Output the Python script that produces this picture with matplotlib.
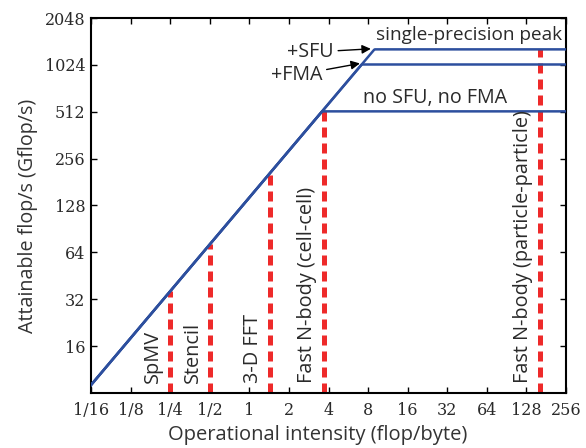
import numpy as np
import matplotlib.pyplot as plt

# roofline parameters (Fermi-class GPU)
bandwidth = 144.0          # GB/s
peaks = [1288, 1030, 515]  # +SFU, +FMA, no SFU/no FMA
peak_names = ["single-precision peak", "+FMA", "no SFU, no FMA"]

# kernels: operational intensity and attained roof
kernels = ["SpMV", "Stencil", "3-D FFT", "Fast N-body (cell-cell)",
           "Fast N-body (particle-particle)"]
kernel_oi = [0.25, 0.5, 1.43, 3.7, 162]
kernel_top = [36, 72, 206, 515, 1288]

xticks = [1/16, 1/8, 1/4, 1/2, 1, 2, 4, 8, 16, 32, 64, 128, 256]
xticklabels = ["1/16", "1/8", "1/4", "1/2", "1", "2", "4", "8", "16", "32",
               "64", "128", "256"]
yticks = [16, 32, 64, 128, 256, 512, 1024, 2048]

blue = "#2d4f9e"
red = "#ee2a2a"
txt = "#2a2a2a"
sans = ["Open Sans", "DejaVu Sans"]

fig = plt.figure(figsize=(5.86, 4.48), dpi=100)
ax = fig.add_axes([0.1553, 0.1228, 0.8106, 0.837])
ax.set_xscale("log", base=2)
ax.set_yscale("log", base=2)

x = np.logspace(np.log2(1/16), np.log2(256), 600, base=2)
for p in peaks:
    ax.plot(x, np.minimum(bandwidth * x, p), color=blue, lw=1.8, zorder=3)

# kernel markers with rotated names
for oi, top, name in zip(kernel_oi, kernel_top, kernels):
    ax.plot([oi, oi], [8, top], color=red, lw=3.6, dashes=(2.0, 1.2), zorder=2)
    ax.text(oi / 1.13, 9.3, name, rotation=90, ha="right", va="bottom",
            fontsize=14.3, family=sans, color=txt)

ax.text(9.17, 1594, peak_names[0], ha="left", va="center", fontsize=13.7,
        family=sans, color=txt)
ax.text(7.3, 628, peak_names[2], ha="left", va="center", fontsize=14.2,
        family=sans, color=txt)
ax.annotate("+SFU", xy=(8.6, 1300), xytext=(4.4, 1235), ha="right",
            va="center", fontsize=14.2, family=sans, color=txt,
            arrowprops=dict(arrowstyle="-|>", color="k", lw=1.0,
                            shrinkA=1, shrinkB=1, mutation_scale=13))
ax.annotate("+FMA", xy=(7.1, 1050), xytext=(3.6, 882), ha="right",
            va="center", fontsize=14.2, family=sans, color=txt,
            arrowprops=dict(arrowstyle="-|>", color="k", lw=1.0,
                            shrinkA=1, shrinkB=1, mutation_scale=13))

ax.set_xlim(1/16, 256)
ax.set_ylim(8, 2048)
ax.set_xticks(xticks)
ax.set_xticklabels(xticklabels)
ax.set_yticks(yticks)
ax.set_yticklabels([str(v) for v in yticks])
ax.minorticks_off()
ax.tick_params(direction="in", top=True, right=True, length=4, width=1,
               labelsize=11.5)
ax.tick_params(axis="x", pad=6.5)
ax.tick_params(axis="y", pad=4)
for lab in ax.get_xticklabels() + ax.get_yticklabels():
    lab.set_family("DejaVu Serif")
    lab.set_color(txt)
for s in ax.spines.values():
    s.set_linewidth(1.5)

ax.set_xlabel("Operational intensity (flop/byte)", fontsize=14.5, family=sans,
              color="#333333", labelpad=4)
ax.set_ylabel("Attainable flop/s (Gflop/s)", fontsize=14.2, family=sans,
              color="#333333", labelpad=5)
ax.xaxis.label.set_x(0.478)
ax.yaxis.label.set_y(0.472)

fig.savefig("out.png", dpi=100)
